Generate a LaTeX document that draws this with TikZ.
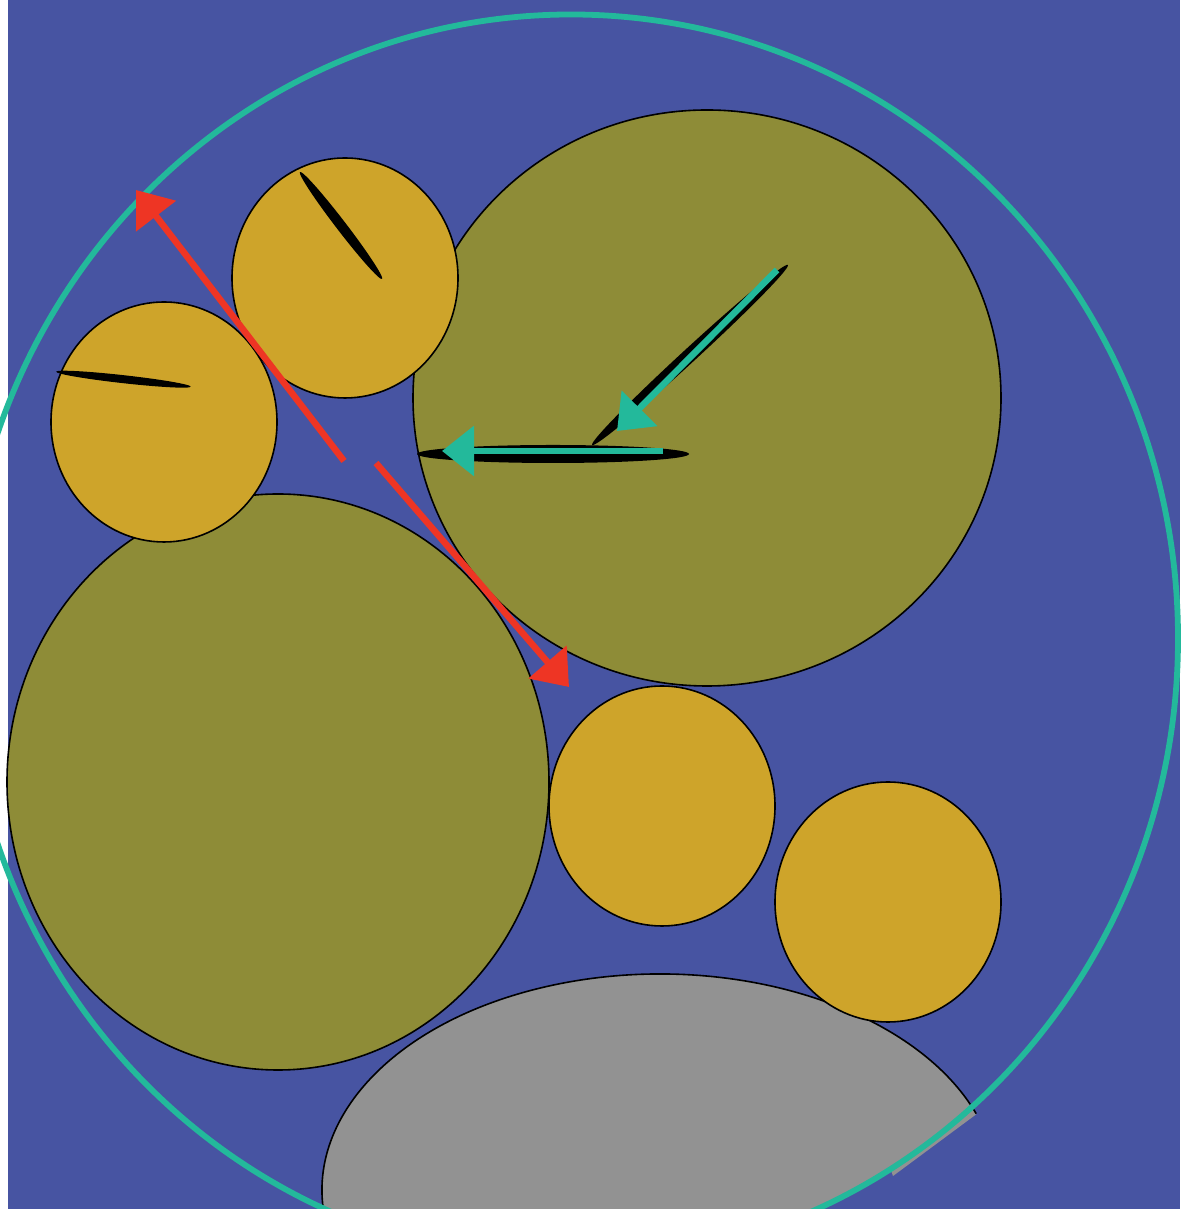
\documentclass[tikz,border=0pt]{standalone}
\usetikzlibrary{arrows.meta}
\definecolor{bgblue}{RGB}{71,84,162}
\definecolor{tealc}{RGB}{35,185,155}
\definecolor{olivec}{RGB}{142,140,55}
\definecolor{goldc}{RGB}{206,164,42}
\definecolor{grayc}{RGB}{146,146,146}
\definecolor{redc}{RGB}{238,53,36}
\tikzset{
  bigdisc/.style={fill=olivec,draw=black,line width=1.6pt},
  smalldisc/.style={fill=goldc,draw=black,line width=1.6pt},
  needle/.style={fill=black},
  redarrow/.style={draw=redc,line width=6.5pt,-{Triangle[length=33pt,width=49pt]}},
  tealarrow/.style={draw=tealc,line width=6.5pt,-{Triangle[length=32pt,width=49pt]}},
}
\begin{document}
\begin{tikzpicture}[x=1pt,y=1pt]
\useasboundingbox (0,0) rectangle (1180,1209);
\fill[white] (0,0) rectangle (1180,1209);
\fill[bgblue] (8,0) rectangle (1180,1209);
% gray ellipse, clipped to the teal ring interior plus a strip
\begin{scope}
  \clip (660,19) ellipse [x radius=338, y radius=216];
  \fill[grayc] (571,570.5) ellipse [x radius=607, y radius=624];
  \fill[grayc] (978,96) -- (893,33) -- (889,44) -- (972,112) -- cycle;
\end{scope}
\draw[black,line width=1.6pt] (660,19) ++(20.7:338 and 216) arc [start angle=20.7, end angle=195, x radius=338, y radius=216];
% teal ring
\draw[tealc,line width=5.8pt] (571,570.5) ellipse [x radius=607, y radius=624];
% olive discs
\draw[bigdisc] (707,811) ellipse [x radius=294, y radius=288];
\draw[bigdisc] (278,427) ellipse [x radius=271, y radius=288];
% gold discs
\draw[smalldisc] (345,931) ellipse [x radius=113, y radius=120];
\draw[smalldisc] (164,787) ellipse [x radius=113, y radius=120];
\draw[smalldisc] (662,403) ellipse [x radius=113, y radius=120];
\draw[smalldisc] (888,307) ellipse [x radius=113, y radius=120];
% needles
\fill[needle,rotate around={42.6:(690,854)}] (690,854) ellipse [x radius=133, y radius=7];
\fill[needle] (553,755) ellipse [x radius=136, y radius=9];
\fill[needle,rotate around={-52.5:(341,983.5)}] (341,983.5) ellipse [x radius=67.4, y radius=5];
\fill[needle,rotate around={-6.35:(123.4,829.8)}] (123.4,829.8) ellipse [x radius=67.7, y radius=4];
% teal arrows
\coordinate (ta1) at (777,939);
\coordinate (tb1) at (617,778);
\coordinate (ta2) at (663,758);
\coordinate (tb2) at (442,758);
\draw[tealarrow] (ta1) -- (tb1);
\draw[tealarrow] (ta2) -- (tb2);
% red arrows
\coordinate (ra1) at (344,748);
\coordinate (rb1) at (136,1019);
\coordinate (ra2) at (376,746);
\coordinate (rb2) at (569,522);
\draw[redarrow] (ra1) -- (rb1);
\draw[redarrow] (ra2) -- (rb2);
\end{tikzpicture}
\end{document}
